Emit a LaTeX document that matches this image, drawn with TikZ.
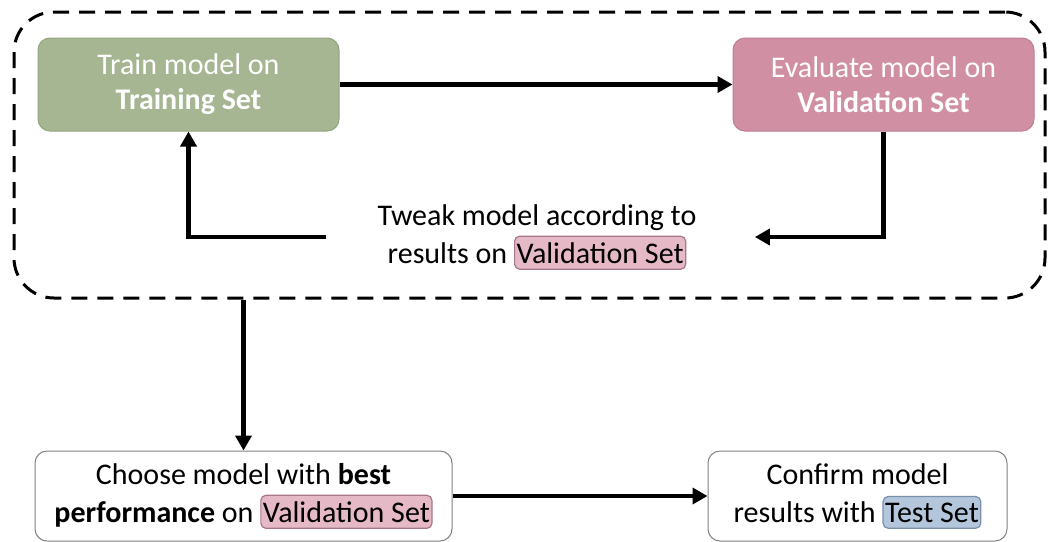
\documentclass[tikz,border=0pt]{standalone}
\usepackage{fontspec}
\setmainfont{Carlito}
\usetikzlibrary{arrows.meta,positioning}

\definecolor{trainfill}{HTML}{A6B592}
\definecolor{traindraw}{HTML}{93A37F}
\definecolor{evalfill}{HTML}{D08FA3}
\definecolor{evaldraw}{HTML}{BF7D92}
\definecolor{valfill}{HTML}{E6B9C7}
\definecolor{valdraw}{HTML}{A8768A}
\definecolor{testfill}{HTML}{B3C6DC}
\definecolor{testdraw}{HTML}{7A8FAA}

\tikzset{
  stepbox/.style={rounded corners=12pt, align=center, line width=1pt,
    font=\fontsize{30pt}{35pt}\selectfont},
  flow/.style={line width=4.5pt, -{Triangle[length=15pt,width=16pt]}},
  loopframe/.style={draw, dashed, line width=3pt, dash pattern=on 16pt off 10pt,
    rounded corners=40pt}
}

% highlighted set name inside a sentence
\newcommand{\setmark}[3]{\tikz[baseline=(sm.base)]\node (sm)
  [fill=#1, draw=#2, line width=1.2pt, rounded corners=5pt,
   minimum width=0pt, minimum height=0pt,
   inner xsep=2pt, inner ysep=6pt] {#3};}

\begin{document}
\begin{tikzpicture}[x=1pt,y=-1pt]
  \useasboundingbox (0,0) rectangle (1048,541);

  % Ciclo di addestramento
  \node[loopframe, minimum width=1031pt, minimum height=286pt] (loop) at (529.5,155) {};
  \node[stepbox, fill=trainfill, draw=traindraw, text=white,
        minimum width=301pt, minimum height=93pt] (train) at (188.5,84.5)
        {Train model on\\\textbf{Training Set}};
  \node[stepbox, fill=evalfill, draw=evaldraw, text=white,
        minimum width=301pt, minimum height=93pt] (eval) at (883.5,84.5)
        {Evaluate model on\\\textbf{Validation Set}};
  \node[align=center, font=\fontsize{30pt}{38pt}\selectfont] (tweak) at (537,237)
        {Tweak model according to\\results on \setmark{valfill}{valdraw}{Validation Set}};

  % Scelta finale
  \node[stepbox, draw=gray, fill=white, font=\fontsize{30pt}{38pt}\selectfont,
        minimum width=417pt, minimum height=90pt] (choose) at (243.5,496)
        {Choose model with \textbf{best}\\\textbf{performance} on \setmark{valfill}{valdraw}{Validation Set}};
  \node[stepbox, draw=gray, fill=white, font=\fontsize{30pt}{38pt}\selectfont,
        minimum width=299pt, minimum height=90pt] (confirm) at (857.5,496)
        {Confirm model\\results with \setmark{testfill}{testdraw}{Test Set}};

  % Frecce
  \draw[flow] (train) -- (eval);
  \draw[flow, shorten >=55pt] (eval.south) |- (tweak.east);
  \draw[flow, shorten <=48pt] (tweak.west) -| (train.south);
  \draw[flow] (loop.south -| choose.north) -- (choose.north);
  \draw[flow] (choose) -- (confirm);
\end{tikzpicture}
\end{document}
